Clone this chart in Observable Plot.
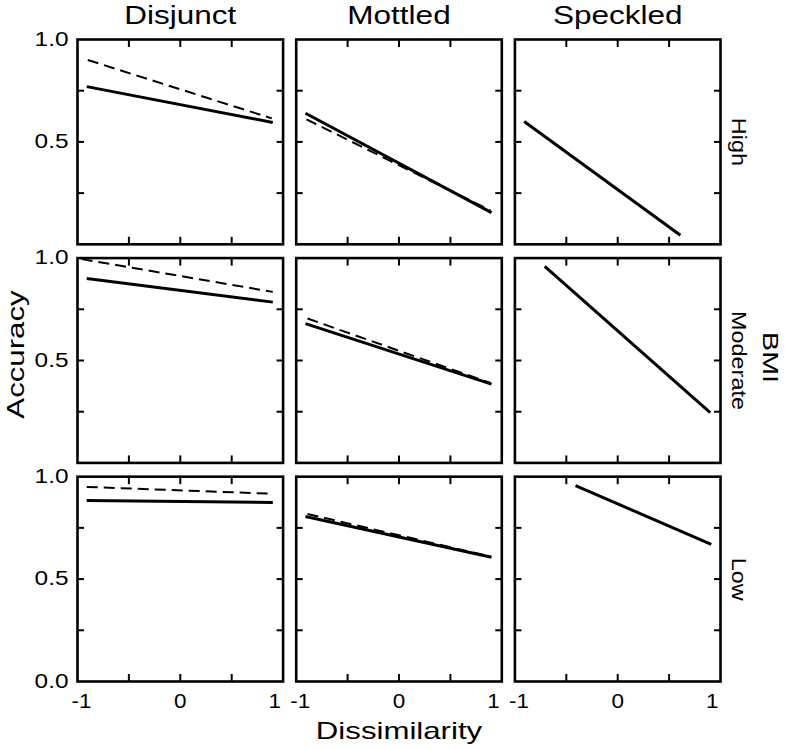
<!DOCTYPE html>
<html><head><meta charset="utf-8">
<script src="https://cdn.jsdelivr.net/npm/d3@7"></script>
<script src="https://cdn.jsdelivr.net/npm/@observablehq/plot@0.6"></script>
<style>body{margin:0;background:#fff}</style>
</head><body><div id="chart"></div>
<script>
const columns = ["Disjunct", "Mottled", "Speckled"];
const rows = ["High", "Moderate", "Low"];
const xTickLabels = [-1, 0, 1];
const xMinorTicks = [-0.5, 0, 0.5];
const yMinorTicks = [0.25, 0.5, 0.75];
const yTickLabels = [1.0, 0.5, 0.0];
const xTitle = "Dissimilarity";
const yTitle = "Accuracy";
const rowTitle = "BMI";

// fitted lines: [column, row, dissimilarity start, accuracy start, dissimilarity end, accuracy end]
const solidFits = [
  ["Disjunct", "High", -0.91, 0.77, 0.90, 0.595],
  ["Mottled", "High", -0.91, 0.64, 0.90, 0.155],
  ["Speckled", "High", -0.91, 0.60, 0.61, 0.044],
  ["Disjunct", "Moderate", -0.91, 0.90, 0.90, 0.785],
  ["Mottled", "Moderate", -0.91, 0.68, 0.90, 0.385],
  ["Speckled", "Moderate", -0.71, 0.96, 0.90, 0.245],
  ["Disjunct", "Low", -0.91, 0.884, 0.90, 0.874],
  ["Mottled", "Low", -0.91, 0.806, 0.90, 0.607],
  ["Speckled", "Low", -0.41, 0.956, 0.91, 0.67]
];
const dashedFits = [
  ["Disjunct", "High", -0.90, 0.90, 0.89, 0.615],
  ["Mottled", "High", -0.90, 0.61, 0.89, 0.165],
  ["Disjunct", "Moderate", -0.96, 0.995, 0.90, 0.835],
  ["Mottled", "Moderate", -0.89, 0.705, 0.89, 0.39],
  ["Disjunct", "Low", -0.91, 0.95, 0.89, 0.917],
  ["Mottled", "Low", -0.89, 0.818, 0.89, 0.61]
];

const toObj = ([fx, fy, x1, y1, x2, y2]) => ({fx, fy, x1, y1, x2, y2});
const solid = solidFits.map(toObj);
const dashed = dashedFits.map(toObj);
const lastRow = rows[rows.length - 1];
const yLabelData = rows.flatMap(r =>
  yTickLabels.filter(v => v > 0 || r === lastRow).map(v => ({fx: columns[0], fy: r, v})));
const xLabelData = columns.flatMap(c => xTickLabels.map(v => ({fx: c, fy: lastRow, v})));

const font = "'Liberation Sans', Arial, sans-serif";

// x tick labels: "-1" sits just inside the left edge, "1" just inside the right edge
const xLabelMark = (v, anchor, dx) => Plot.text(xLabelData.filter(d => d.v === v), {
  fx: "fx", fy: "fy", x: "v", frameAnchor: "bottom", lineAnchor: "top", textAnchor: anchor,
  dy: 12, dx, fontSize: 20, text: d => String(d.v)
});

const chart = Plot.plot({
  width: 786,
  height: 750,
  marginLeft: 77,
  marginRight: 66,
  marginTop: 39,
  marginBottom: 69,
  style: {fontFamily: font, background: "white", color: "black"},
  fx: {domain: columns, paddingInner: 0.06, paddingOuter: 0, round: false, axis: null},
  fy: {domain: rows, paddingInner: 0.063, paddingOuter: 0, round: false, axis: null},
  x: {domain: [-1, 1]},
  y: {domain: [0, 1]},
  marks: [
    Plot.frame({strokeWidth: 2.6, stroke: "black"}),
    // inward ticks on all four sides
    Plot.axisX(xMinorTicks, {anchor: "bottom", tickSize: 7, dy: -7, fill: "none", label: null, facetAnchor: null, strokeWidth: 2}),
    Plot.axisX(xMinorTicks, {anchor: "top", tickSize: 7, dy: 7, fill: "none", label: null, facetAnchor: null, strokeWidth: 2}),
    Plot.axisY(yMinorTicks, {anchor: "left", tickSize: 7, dx: 7, fill: "none", label: null, facetAnchor: null, strokeWidth: 2}),
    Plot.axisY(yMinorTicks, {anchor: "right", tickSize: 7, dx: -7, fill: "none", label: null, facetAnchor: null, strokeWidth: 2}),
    // x tick labels on the bottom row
    xLabelMark(-1, "middle", 4),
    xLabelMark(0, "middle", 0),
    xLabelMark(1, "end", -2),
    // y tick labels on the left column
    Plot.text(yLabelData, {fx: "fx", fy: "fy", y: "v", frameAnchor: "left", textAnchor: "end", dx: -9, fontSize: 20, text: d => d.v.toFixed(1)}),
    // fitted lines
    Plot.link(dashed, {fx: "fx", fy: "fy", x1: "x1", y1: "y1", x2: "x2", y2: "y2", stroke: "black", strokeWidth: 2, strokeDasharray: "11,6"}),
    Plot.link(solid, {fx: "fx", fy: "fy", x1: "x1", y1: "y1", x2: "x2", y2: "y2", stroke: "black", strokeWidth: 3}),
    // column titles
    Plot.text(columns, {fx: d => d, fy: () => rows[0], text: d => d, frameAnchor: "top", textAnchor: "middle", lineAnchor: "bottom", dy: -16, fontSize: 25}),
    // row titles
    Plot.text(rows, {fx: () => columns[2], fy: d => d, text: d => d, frameAnchor: "right", textAnchor: "middle", rotate: 90, lineAnchor: "bottom", dx: 11, fontSize: 20}),
    // BMI
    Plot.text([rowTitle], {fx: () => columns[2], fy: () => rows[1], text: d => d, frameAnchor: "right", textAnchor: "middle", rotate: 90, lineAnchor: "bottom", dx: 42, dy: -3, fontSize: 22}),
    // Accuracy
    Plot.text([yTitle], {fx: () => columns[0], fy: () => rows[1], text: d => d, frameAnchor: "left", textAnchor: "middle", rotate: -90, lineAnchor: "bottom", dx: -54, dy: -6, fontSize: 24}),
    // Dissimilarity
    Plot.text([xTitle], {fx: () => columns[1], fy: () => rows[2], text: d => d, frameAnchor: "bottom", textAnchor: "middle", lineAnchor: "bottom", dy: 57, fontSize: 24})
  ]
});

document.getElementById("chart").appendChild(chart);

// widen glyphs to match the reference's broad sans-serif lettering
const stretch = new Map([
  ...columns.map(c => [c, 1.26]),
  ...rows.map(r => [r, 1.17]),
  [rowTitle, 1.3], [yTitle, 1.3], [xTitle, 1.3],
  ...yTickLabels.map(v => [v.toFixed(1), 1.22]),
  ...xTickLabels.map(v => [String(v), 1.12])
]);
chart.querySelectorAll("text").forEach(t => {
  const k = stretch.get(t.textContent.trim());
  if (!k) return;
  const len = t.getComputedTextLength();
  if (len > 0) {
    t.setAttribute("textLength", (len * k).toFixed(1));
    t.setAttribute("lengthAdjust", "spacingAndGlyphs");
  }
});
</script>
</body></html>
